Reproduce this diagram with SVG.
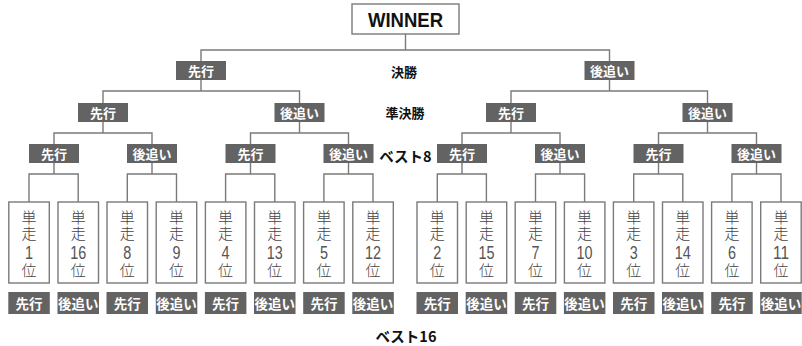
<svg xmlns="http://www.w3.org/2000/svg" width="802" height="346" viewBox="0 0 802 346">
<style>
.ln{fill:none;stroke:#7a7a7a;stroke-width:1.4}
.lab{fill:#636363}
.lt{font-family:"Noto Sans CJK JP","Noto Sans",sans-serif;font-weight:700;font-size:13px;fill:#ffffff;text-anchor:middle;dominant-baseline:central}
.lt2{font-family:"Noto Sans CJK JP","Noto Sans",sans-serif;font-weight:700;font-size:13.5px;fill:#ffffff;text-anchor:middle;dominant-baseline:central}
.leaf{fill:#ffffff;stroke:#7a7a7a;stroke-width:1.4}
.lv{font-family:"Noto Sans CJK JP","Noto Sans",sans-serif;font-weight:300;font-size:15px;fill:#444444;writing-mode:vertical-rl;text-anchor:start;letter-spacing:1px}
.num{font-family:"Liberation Sans",Arial,sans-serif;font-size:18px;fill:#555555;text-anchor:middle;dominant-baseline:central}
.row{font-family:"Noto Sans CJK JP","Noto Sans",sans-serif;font-weight:700;font-size:13px;fill:#111;text-anchor:middle;dominant-baseline:central}
.rowb{font-family:"Noto Sans CJK JP","Noto Sans",sans-serif;font-weight:700;font-size:14.5px;fill:#111;text-anchor:middle;dominant-baseline:central}
</style>
<rect width="802" height="346" fill="#ffffff"/>
<g id="connectors">
<path class="ln" d="M405.5 34V50M201 61V50H609.5V61"/>
<path class="ln" d="M201 80V91M103 103V91H299.5V103M609.5 80V91M511 103V91H707.5V103"/>
<path class="ln" d="M103 122V133M54 144V133H152V144M299.5 122V133M250.5 144V133H348.5V144M511 122V133M462 144V133H560V144M707.5 122V133M658.5 144V133H756.5V144"/>
<path class="ln" d="M54 163V174M29 202V174H78.2V202M152 163V174M127.3 202V174H176.5V202M250.5 163V174M225.6 202V174H274.8V202M348.5 163V174M323.9 202V174H373V202M462 163V174M437.3 202V174H486.4V202M560 163V174M535.5 202V174H584.6V202M658.5 163V174M633.7 202V174H682.8V202M756.5 163V174M731.9 202V174H781V202"/>
</g>
<g id="winner">
<rect x="352" y="4" width="107" height="30" fill="#ffffff" stroke="#7a7a7a" stroke-width="1.4"/>
<text x="405.5" y="20" font-family="'Liberation Sans',Arial,sans-serif" font-weight="700" font-size="20" fill="#111" text-anchor="middle" dominant-baseline="central" textLength="75" lengthAdjust="spacingAndGlyphs">WINNER</text>
</g>
<g id="row-labels">
<text class="row" x="404" y="71">決勝</text>
<text class="row" x="405" y="112">準決勝</text>
<text class="rowb" x="405.5" y="155">ベスト8</text>
<text class="rowb" x="406" y="335">ベスト16</text>
</g>
<g id="final-left"><rect class="lab" x="176" y="61" width="50" height="19"/><text class="lt" x="201" y="70.5">先行</text></g>
<g id="final-right"><rect class="lab" x="584.5" y="61" width="50" height="19"/><text class="lt" x="609.5" y="70.5">後追い</text></g>
<g id="semi-1"><rect class="lab" x="78" y="103" width="50" height="19"/><text class="lt" x="103" y="112.5">先行</text></g>
<g id="semi-2"><rect class="lab" x="274.5" y="103" width="50" height="19"/><text class="lt" x="299.5" y="112.5">後追い</text></g>
<g id="semi-3"><rect class="lab" x="486" y="103" width="50" height="19"/><text class="lt" x="511" y="112.5">先行</text></g>
<g id="semi-4"><rect class="lab" x="682.5" y="103" width="50" height="19"/><text class="lt" x="707.5" y="112.5">後追い</text></g>
<g id="qf-1"><rect class="lab" x="29" y="144" width="50" height="19"/><text class="lt" x="54" y="153.5">先行</text></g>
<g id="qf-2"><rect class="lab" x="127" y="144" width="50" height="19"/><text class="lt" x="152" y="153.5">後追い</text></g>
<g id="qf-3"><rect class="lab" x="225.5" y="144" width="50" height="19"/><text class="lt" x="250.5" y="153.5">先行</text></g>
<g id="qf-4"><rect class="lab" x="323.5" y="144" width="50" height="19"/><text class="lt" x="348.5" y="153.5">後追い</text></g>
<g id="qf-5"><rect class="lab" x="437" y="144" width="50" height="19"/><text class="lt" x="462" y="153.5">先行</text></g>
<g id="qf-6"><rect class="lab" x="535" y="144" width="50" height="19"/><text class="lt" x="560" y="153.5">後追い</text></g>
<g id="qf-7"><rect class="lab" x="633.5" y="144" width="50" height="19"/><text class="lt" x="658.5" y="153.5">先行</text></g>
<g id="qf-8"><rect class="lab" x="731.5" y="144" width="50" height="19"/><text class="lt" x="756.5" y="153.5">後追い</text></g>
<g id="leaf-1"><rect class="leaf" x="8.8" y="202" width="40.5" height="81"/><text class="lv" x="29" y="210">単走</text><text class="num" x="29" y="252.5" textLength="8" lengthAdjust="spacingAndGlyphs">1</text><text class="lv" x="29" y="262.5">位</text></g>
<g id="leaf-16"><rect class="leaf" x="58" y="202" width="40.5" height="81"/><text class="lv" x="78.2" y="210">単走</text><text class="num" x="78.2" y="252.5" textLength="16" lengthAdjust="spacingAndGlyphs">16</text><text class="lv" x="78.2" y="262.5">位</text></g>
<g id="leaf-8"><rect class="leaf" x="107" y="202" width="40.5" height="81"/><text class="lv" x="127.3" y="210">単走</text><text class="num" x="127.3" y="252.5" textLength="8" lengthAdjust="spacingAndGlyphs">8</text><text class="lv" x="127.3" y="262.5">位</text></g>
<g id="leaf-9"><rect class="leaf" x="156.2" y="202" width="40.5" height="81"/><text class="lv" x="176.5" y="210">単走</text><text class="num" x="176.5" y="252.5" textLength="8" lengthAdjust="spacingAndGlyphs">9</text><text class="lv" x="176.5" y="262.5">位</text></g>
<g id="leaf-4"><rect class="leaf" x="205.4" y="202" width="40.5" height="81"/><text class="lv" x="225.6" y="210">単走</text><text class="num" x="225.6" y="252.5" textLength="8" lengthAdjust="spacingAndGlyphs">4</text><text class="lv" x="225.6" y="262.5">位</text></g>
<g id="leaf-13"><rect class="leaf" x="254.5" y="202" width="40.5" height="81"/><text class="lv" x="274.8" y="210">単走</text><text class="num" x="274.8" y="252.5" textLength="16" lengthAdjust="spacingAndGlyphs">13</text><text class="lv" x="274.8" y="262.5">位</text></g>
<g id="leaf-5"><rect class="leaf" x="303.6" y="202" width="40.5" height="81"/><text class="lv" x="323.9" y="210">単走</text><text class="num" x="323.9" y="252.5" textLength="8" lengthAdjust="spacingAndGlyphs">5</text><text class="lv" x="323.9" y="262.5">位</text></g>
<g id="leaf-12"><rect class="leaf" x="352.8" y="202" width="40.5" height="81"/><text class="lv" x="373" y="210">単走</text><text class="num" x="373" y="252.5" textLength="16" lengthAdjust="spacingAndGlyphs">12</text><text class="lv" x="373" y="262.5">位</text></g>
<g id="leaf-2"><rect class="leaf" x="417" y="202" width="40.5" height="81"/><text class="lv" x="437.3" y="210">単走</text><text class="num" x="437.3" y="252.5" textLength="8" lengthAdjust="spacingAndGlyphs">2</text><text class="lv" x="437.3" y="262.5">位</text></g>
<g id="leaf-15"><rect class="leaf" x="466.2" y="202" width="40.5" height="81"/><text class="lv" x="486.4" y="210">単走</text><text class="num" x="486.4" y="252.5" textLength="16" lengthAdjust="spacingAndGlyphs">15</text><text class="lv" x="486.4" y="262.5">位</text></g>
<g id="leaf-7"><rect class="leaf" x="515.2" y="202" width="40.5" height="81"/><text class="lv" x="535.5" y="210">単走</text><text class="num" x="535.5" y="252.5" textLength="8" lengthAdjust="spacingAndGlyphs">7</text><text class="lv" x="535.5" y="262.5">位</text></g>
<g id="leaf-10"><rect class="leaf" x="564.4" y="202" width="40.5" height="81"/><text class="lv" x="584.6" y="210">単走</text><text class="num" x="584.6" y="252.5" textLength="16" lengthAdjust="spacingAndGlyphs">10</text><text class="lv" x="584.6" y="262.5">位</text></g>
<g id="leaf-3"><rect class="leaf" x="613.4" y="202" width="40.5" height="81"/><text class="lv" x="633.7" y="210">単走</text><text class="num" x="633.7" y="252.5" textLength="8" lengthAdjust="spacingAndGlyphs">3</text><text class="lv" x="633.7" y="262.5">位</text></g>
<g id="leaf-14"><rect class="leaf" x="662.5" y="202" width="40.5" height="81"/><text class="lv" x="682.8" y="210">単走</text><text class="num" x="682.8" y="252.5" textLength="16" lengthAdjust="spacingAndGlyphs">14</text><text class="lv" x="682.8" y="262.5">位</text></g>
<g id="leaf-6"><rect class="leaf" x="711.6" y="202" width="40.5" height="81"/><text class="lv" x="731.9" y="210">単走</text><text class="num" x="731.9" y="252.5" textLength="8" lengthAdjust="spacingAndGlyphs">6</text><text class="lv" x="731.9" y="262.5">位</text></g>
<g id="leaf-11"><rect class="leaf" x="760.7" y="202" width="40.5" height="81"/><text class="lv" x="781" y="210">単走</text><text class="num" x="781" y="252.5" textLength="16" lengthAdjust="spacingAndGlyphs">11</text><text class="lv" x="781" y="262.5">位</text></g>
<g id="r16-labels">
<g id="r16-1"><rect class="lab" x="8.3" y="292" width="41.5" height="22"/><text class="lt2" x="29" y="303">先行</text></g>
<g id="r16-2"><rect class="lab" x="57.5" y="292" width="41.5" height="22"/><text class="lt2" x="78.2" y="303">後追い</text></g>
<g id="r16-3"><rect class="lab" x="106.5" y="292" width="41.5" height="22"/><text class="lt2" x="127.3" y="303">先行</text></g>
<g id="r16-4"><rect class="lab" x="155.8" y="292" width="41.5" height="22"/><text class="lt2" x="176.5" y="303">後追い</text></g>
<g id="r16-5"><rect class="lab" x="204.9" y="292" width="41.5" height="22"/><text class="lt2" x="225.6" y="303">先行</text></g>
<g id="r16-6"><rect class="lab" x="254" y="292" width="41.5" height="22"/><text class="lt2" x="274.8" y="303">後追い</text></g>
<g id="r16-7"><rect class="lab" x="303.2" y="292" width="41.5" height="22"/><text class="lt2" x="323.9" y="303">先行</text></g>
<g id="r16-8"><rect class="lab" x="352.3" y="292" width="41.5" height="22"/><text class="lt2" x="373" y="303">後追い</text></g>
<g id="r16-9"><rect class="lab" x="416.5" y="292" width="41.5" height="22"/><text class="lt2" x="437.3" y="303">先行</text></g>
<g id="r16-10"><rect class="lab" x="465.7" y="292" width="41.5" height="22"/><text class="lt2" x="486.4" y="303">後追い</text></g>
<g id="r16-11"><rect class="lab" x="514.8" y="292" width="41.5" height="22"/><text class="lt2" x="535.5" y="303">先行</text></g>
<g id="r16-12"><rect class="lab" x="563.9" y="292" width="41.5" height="22"/><text class="lt2" x="584.6" y="303">後追い</text></g>
<g id="r16-13"><rect class="lab" x="613" y="292" width="41.5" height="22"/><text class="lt2" x="633.7" y="303">先行</text></g>
<g id="r16-14"><rect class="lab" x="662" y="292" width="41.5" height="22"/><text class="lt2" x="682.8" y="303">後追い</text></g>
<g id="r16-15"><rect class="lab" x="711.2" y="292" width="41.5" height="22"/><text class="lt2" x="731.9" y="303">先行</text></g>
<g id="r16-16"><rect class="lab" x="760.2" y="292" width="41.5" height="22"/><text class="lt2" x="781" y="303">後追い</text></g>
</g>
</svg>
